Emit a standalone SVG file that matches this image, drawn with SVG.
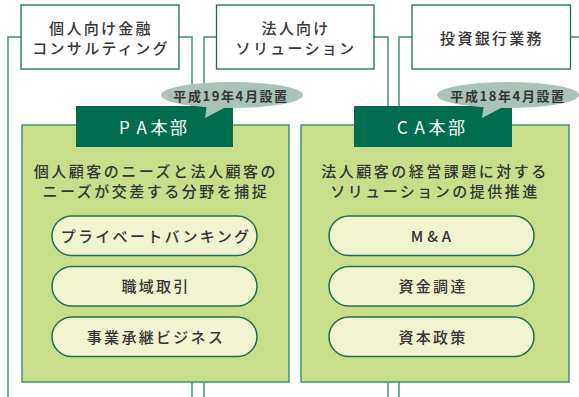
<svg xmlns="http://www.w3.org/2000/svg" width="579" height="397" viewBox="0 0 579 397">
<style>
text{font-family:"Noto Sans CJK JP","Noto Sans",sans-serif;fill:#353535;font-weight:500;}
.conn{fill:none;stroke:#3d8c70;stroke-width:1.4;}
.box{fill:#ffffff;stroke:#1d6c4e;stroke-width:1.3;}
.panel{fill:#c9de8b;stroke:#3a8a6c;stroke-width:1.4;}
.head{fill:#006e4e;}
.pill{fill:#f1f4cf;stroke:#1f7050;stroke-width:1.5;}
.bub{fill:#a8c4b8;}
.t15{font-size:15px;letter-spacing:2.3px;text-anchor:middle;}
.desc{font-size:15px;letter-spacing:2.5px;text-anchor:middle;}
.hd{font-size:17px;fill:#ffffff;font-weight:400;}
.bt{font-size:13px;font-weight:bold;text-anchor:middle;letter-spacing:1.6px;}
</style>
<g id="connectors">
<polyline class="conn" points="21,37 8,37 8,397"/>
<polyline class="conn" points="179,37 192,37 192,397"/>
<polyline class="conn" points="217,37 204,37 204,397"/>
<polyline class="conn" points="374,37 388,37 388,397"/>
<polyline class="conn" points="412,37 399,37 399,397"/>
<polyline class="conn" points="570,37 579,37"/>
</g>
<g id="box-kojin">
<rect class="box" x="21" y="5" width="158" height="64"/>
<text class="t15" x="101" y="34">個人向け金融</text>
<text class="t15" x="101" y="54">コンサルティング</text>
</g>
<g id="box-houjin">
<rect class="box" x="216.5" y="5" width="157.5" height="64"/>
<text class="t15" x="296" y="34">法人向け</text>
<text class="t15" x="296" y="54">ソリューション</text>
</g>
<g id="box-toushi">
<rect class="box" x="412" y="5" width="158.5" height="64"/>
<text class="t15" x="492" y="44">投資銀行業務</text>
</g>
<g id="pa">
<rect class="panel" x="22" y="125" width="267" height="257"/>
<rect class="head" x="76" y="106" width="157" height="41"/>
<text class="hd" x="119 136.5 150.5 170" y="134">PA本部</text>
<text class="desc" x="156" y="177">個人顧客のニーズと法人顧客の</text>
<text class="desc" x="156" y="197">ニーズが交差する分野を捕捉</text>
</g>
<g id="pa-bubble">
<ellipse class="bub" cx="232" cy="95" rx="71" ry="13"/>
<polygon class="bub" points="207,104 228,106 205,118"/>
<text class="bt" x="231" y="101">平成19年4月設置</text>
</g>
<g id="pa-pb">
<rect class="pill" x="52" y="216" width="205" height="39.5" rx="19.75"/>
<text class="t15" x="156" y="241.5">プライベートバンキング</text>
</g>
<g id="pa-shokuiki">
<rect class="pill" x="52" y="266.5" width="205" height="39.5" rx="19.75"/>
<text class="t15" x="156" y="292">職域取引</text>
</g>
<g id="pa-jigyou">
<rect class="pill" x="52" y="317" width="205" height="39.5" rx="19.75"/>
<text class="t15" x="156" y="342.5">事業承継ビジネス</text>
</g>
<g id="ca">
<rect class="panel" x="301" y="125" width="268" height="257"/>
<rect class="head" x="354" y="106" width="158" height="41"/>
<text class="hd" x="397 414.5 428.5 448" y="134">CA本部</text>
<text class="desc" x="435" y="177">法人顧客の経営課題に対する</text>
<text class="desc" x="435" y="197">ソリューションの提供推進</text>
</g>
<g id="ca-bubble">
<ellipse class="bub" cx="508" cy="95" rx="71" ry="13"/>
<polygon class="bub" points="484,104 505,106 482,118"/>
<text class="bt" x="508" y="101">平成18年4月設置</text>
</g>
<g id="ca-ma">
<rect class="pill" x="329" y="216" width="205" height="39.5" rx="19.75"/>
<text class="t15" x="433" y="241.5" style="letter-spacing:4px">M&amp;A</text>
</g>
<g id="ca-shikin">
<rect class="pill" x="329" y="266.5" width="205" height="39.5" rx="19.75"/>
<text class="t15" x="433" y="292">資金調達</text>
</g>
<g id="ca-shihon">
<rect class="pill" x="329" y="317" width="205" height="39.5" rx="19.75"/>
<text class="t15" x="433" y="342.5">資本政策</text>
</g>
</svg>
